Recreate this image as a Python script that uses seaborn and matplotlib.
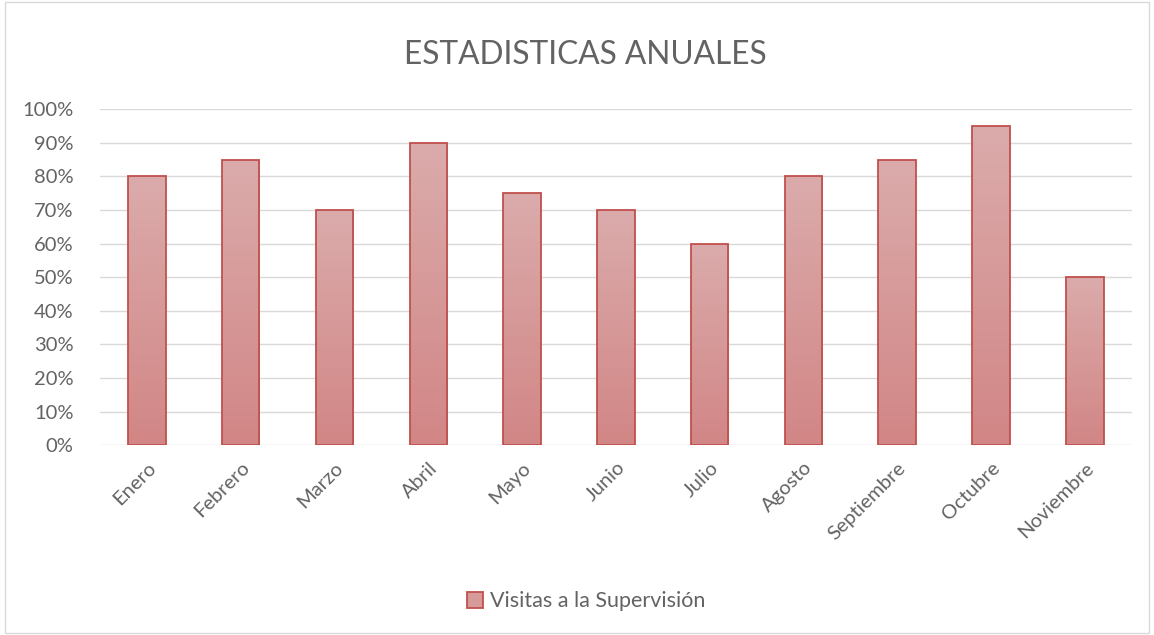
import matplotlib as mpl
mpl.use('Agg')

import matplotlib.pyplot as plt
import numpy as np
import pandas as pd
import seaborn as sns
from matplotlib.colors import LinearSegmentedColormap
from matplotlib.patches import Rectangle
from matplotlib.ticker import PercentFormatter

meses = ['Enero', 'Febrero', 'Marzo', 'Abril', 'Mayo', 'Junio', 'Julio',
         'Agosto', 'Septiembre', 'Octubre', 'Noviembre']
visitas = [80, 85, 70, 90, 75, 70, 60, 80, 85, 95, 50]
serie = 'Visitas a la Supervisión'
titulo = 'ESTADISTICAS ANUALES'

texto = '#636363'
borde = '#C0504D'
grad = LinearSegmentedColormap.from_list('g', ['#D28686', '#DBABAB'])

sns.set_style('white')
plt.rcParams['font.family'] = ['Lato', 'DejaVu Sans']

dset = pd.DataFrame({'mes': meses, 'valor': visitas})

fig = plt.figure(figsize=(11.54, 6.35), dpi=100)
ax = fig.add_axes([0.0867, 0.299, 0.894, 0.529])
sns.barplot(data=dset, x='mes', y='valor', ax=ax, width=0.4,
            color='#D69A9A', edgecolor=borde, linewidth=1.3, zorder=3)

# degradado vertical dentro de cada barra
for bar in ax.patches:
    x0, y0 = bar.get_x(), bar.get_y()
    w, h = bar.get_width(), bar.get_height()
    img = ax.imshow(np.linspace(0, 1, 100).reshape(-1, 1), cmap=grad,
                    extent=[x0, x0 + w, y0, y0 + h], origin='lower',
                    aspect='auto', zorder=3.5)
    img.set_clip_path(bar)
    bar.set_facecolor('none')
    bar.set_zorder(4)

ax.set_xlim(-0.5, len(meses) - 0.5)
ax.set_ylim(0, 100)
ax.set_yticks(range(0, 101, 10))
ax.yaxis.set_major_formatter(PercentFormatter(decimals=0))
ax.grid(axis='y', color='#D9D9D9', linewidth=1, zorder=0)
sns.despine(ax=ax, left=True, bottom=True)
ax.set_xlabel('')
ax.set_ylabel('')
ax.tick_params(axis='both', length=0, colors=texto, labelsize=14.5)
ax.tick_params(axis='y', pad=19)
ax.tick_params(axis='x', pad=10)
plt.setp(ax.get_xticklabels(), rotation=45, ha='right',
         rotation_mode='anchor')

fig.text(0.507, 0.913, titulo, ha='center', va='center', fontsize=22.8,
         color=texto)

handle = Rectangle((0, 0), 1, 1, facecolor='#D69A9A', edgecolor=borde,
                   linewidth=1.3)
fig.legend([handle], [serie], loc='center', bbox_to_anchor=(0.508, 0.053),
           frameon=False, labelcolor=texto, handlelength=0.75,
           handleheight=0.75, handletextpad=0.3, prop={'size': 15.5})

fig.patches.append(Rectangle((0.004, 0.003), 0.992, 0.994,
                             transform=fig.transFigure, fill=False,
                             edgecolor='#D9D9D9', linewidth=1))

plt.savefig('out.png', dpi=100)
plt.close()
